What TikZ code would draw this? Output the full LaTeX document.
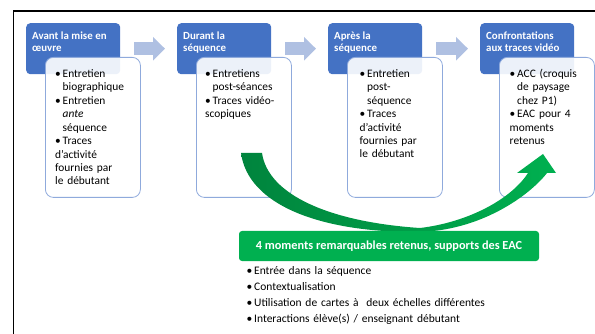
\documentclass[tikz,border=0pt]{standalone}
\usepackage{fontspec}
\setmainfont{Carlito}
\usetikzlibrary{arrows.meta}

\definecolor{bleu}{HTML}{4472C4}
\definecolor{bleupale}{HTML}{AFC0E2}
\definecolor{bordure}{HTML}{8FAADC}
\definecolor{vertvif}{HTML}{00B050}
\definecolor{vertfonce}{HTML}{00843D}

\newcommand\puce[1]{\ifhmode\par\vspace{0.5pt}\fi
  \hangindent=7.5pt\hangafter=1\noindent\makebox[7.5pt][l]{•}#1}

\tikzset{
  etape/.style={fill=bleu, rounded corners=4pt, minimum width=94pt,
    minimum height=51pt, inner sep=0pt, anchor=north west},
  titre/.style={anchor=north west, inner sep=0pt, align=left, text=white,
    font=\fontsize{10.9}{12.3}\selectfont\bfseries},
  carte/.style={fill=white, fill opacity=0.9, draw=bordure, line width=0.8pt,
    rounded corners=8pt, minimum width=95pt, minimum height=140pt,
    inner sep=0pt, anchor=north west},
  contenu/.style={anchor=north west, inner sep=0pt, text width=84pt, align=left,
    font=\fontsize{11.4}{13.3}\selectfont},
  suite/.style={draw=bleupale, line width=13pt,
    -{Triangle[length=12pt,width=23pt]}, shorten <=14pt, shorten >=12pt}
}

\begin{document}
\begin{tikzpicture}[x=1pt,y=-1pt]
\useasboundingbox (0,0) rectangle (595,334);
\draw[line width=1.5pt] (13.5,334) -- (13.5,11) -- (595,11);

\node[etape] (h1) at (26,23) {};
\node[etape] (h2) at (177,23) {};
\node[etape] (h3) at (328,23) {};
\node[etape] (h4) at (480,23) {};
\node[titre] (t1) at ([xshift=6pt,yshift=-8.5pt]h1.north west) {Avant la mise en\\œuvre};
\node[titre] (t2) at ([xshift=6pt,yshift=-8.5pt]h2.north west) {Durant la\\séquence};
\node[titre] (t3) at ([xshift=6pt,yshift=-8.5pt]h3.north west) {Après la\\séquence};
\node[titre] (t4) at ([xshift=6pt,yshift=-8.5pt]h4.north west) {Confrontations\\aux traces vidéo};

\draw[suite] (h1.east) -- (h2.west);
\draw[suite] (h2.east) -- (h3.west);
\draw[suite] (h3.east) -- (h4.west);

\node[carte] (c1) at (45,57) {};
\node[carte] (c2) at (196,57) {};
\node[carte] (c3) at (347,57) {};
\node[carte] (c4) at (499,57) {};
\node[contenu] (l1) at ([xshift=10pt,yshift=-6.5pt]c1.north west)
  {\puce{Entretien\newline biographique}\puce{Entretien\newline \textit{ante}\newline séquence}\puce{Traces\newline d’activité\newline fournies par\newline le débutant}};
\node[contenu] (l2) at ([xshift=9pt,yshift=-6.5pt]c2.north west)
  {\puce{Entretiens\newline post-séances}\puce{Traces vidéo-\newline scopiques}};
\node[contenu] (l3) at ([xshift=12.5pt,yshift=-6.5pt]c3.north west)
  {\puce{Entretien\newline post-\newline séquence}\puce{Traces\newline d’activité\newline fournies par\newline le débutant}};
\node[contenu] (l4) at ([xshift=10.5pt,yshift=-6.5pt]c4.north west)
  {\puce{ACC (croquis\newline de paysage\newline chez P1)}\puce{EAC pour 4\newline moments\newline retenus}};

\shade[left color=vertfonce, right color=vertvif]
  (241,153) .. controls (248,205) and (320,232) .. (415,232)
  .. controls (480,232) and (530,195) .. (547,173)
  -- (556,173) -- (543,154) -- (517,173) -- (528,173)
  .. controls (512,198) and (470,222) .. (420,228)
  .. controls (330,222) and (268,195) .. (262,153) -- cycle;

\node[fill=vertvif, rounded corners=3pt, minimum width=300pt, minimum height=30pt,
  inner sep=0pt, text=white, font=\fontsize{12.3}{14}\selectfont\bfseries]
  (moments) at (389,246) {4 moments remarquables retenus, supports des EAC};
\node[anchor=north west, inner sep=0pt, text width=270pt, align=left,
  font=\fontsize{11.5}{16}\selectfont] (liste) at (246.5,257.5)
  {\puce{Entrée dans la séquence}\\ \puce{Contextualisation}\\
   \puce{Utilisation de cartes à\ \ deux échelles différentes}\\
   \puce{Interactions élève(s) / enseignant débutant}};
\end{tikzpicture}
\end{document}
